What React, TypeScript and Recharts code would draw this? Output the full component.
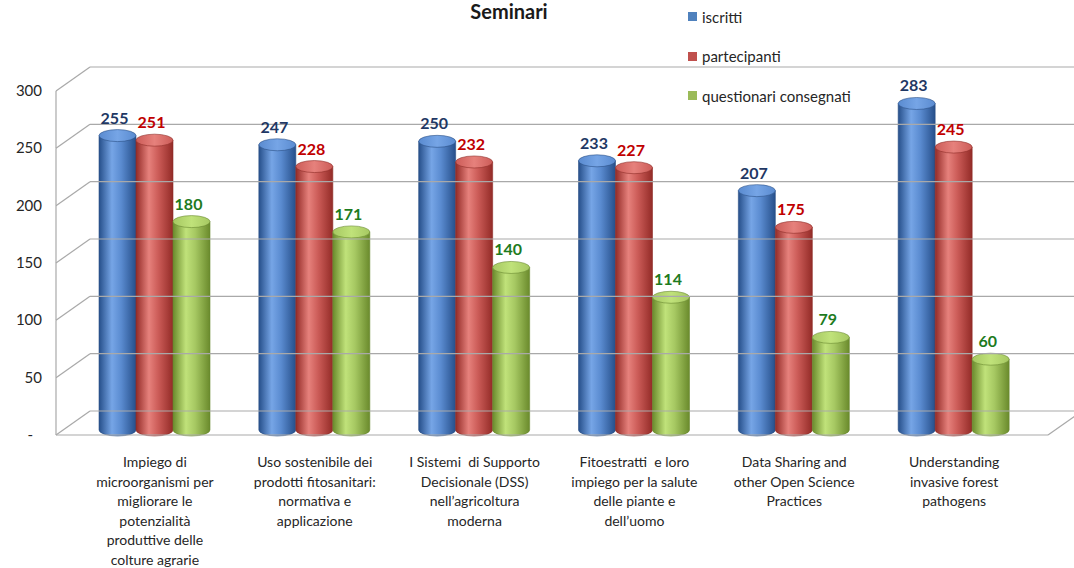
import { Bar, BarChart, LabelList, Legend, XAxis, YAxis } from "recharts";

const categories = [
  ["Impiego di", "microorganismi per", "migliorare le", "potenzialità", "produttive delle", "colture agrarie"],
  ["Uso sostenibile dei", "prodotti fitosanitari:", "normativa e", "applicazione"],
  ["I Sistemi  di Supporto", "Decisionale (DSS)", "nell’agricoltura", "moderna"],
  ["Fitoestratti  e loro", "impiego per la salute", "delle piante e", "dell’uomo"],
  ["Data Sharing and", "other Open Science", "Practices"],
  ["Understanding", "invasive forest", "pathogens"],
];
const iscritti = [255, 247, 250, 233, 207, 283];
const partecipanti = [251, 228, 232, 227, 175, 245];
const questionari = [180, 171, 140, 114, 79, 60];
const yTicks = [0, 50, 100, 150, 200, 250, 300];

const FONT = "Lato, 'Open Sans', sans-serif";
const W = 1074;
const H = 568;
const X_AXIS_H = 30;
const MARGIN = { top: 78, right: 40, bottom: 146 - X_AXIS_H, left: 56 };
const Y_AXIS_W = 19;
const PLOT_H = H - 78 - 146;
const Y_MAX = 300;
const PX_PER_UNIT = PLOT_H / Y_MAX;

// pseudo-3D box: front edge and back wall offsets relative to the value scale
const FRONT_X = 56;
const BACK_X = 90;
const FRONT_DY = 13;
const BACK_DY = -11;
const FLOOR_RIGHT = 1048;
const GRID = "#a9a9a9";

const series = [
  { key: "iscritti", name: "iscritti", legend: "#4f81bd", dark: "#264f8a", light: "#76a5e6", top: "#5a8bd0", edge: "#2b5187", label: "#1f3864" },
  { key: "partecipanti", name: "partecipanti", legend: "#c0504d", dark: "#932b27", light: "#e6817c", top: "#cc5c58", edge: "#8e2d29", label: "#c00000" },
  { key: "questionari", name: "questionari consegnati", legend: "#9bbb59", dark: "#6a8a2c", light: "#c0e27a", top: "#a6c862", edge: "#6a8a30", label: "#1e7b1e" },
];

const data = categories.map((lines, i) => ({
  name: lines.join("\n"),
  iscritti: iscritti[i],
  partecipanti: partecipanti[i],
  questionari: questionari[i],
}));

function Cylinder(props: any) {
  const { x, y, width, height, index, s } = props;
  if (width == null || height == null) return null;
  const ry = 6;
  const rx = width / 2;
  const topY = y + ry;
  const botY = y + height + 8;
  const gid = `grad-${s.key}-${index}`;
  const tid = `top-${s.key}-${index}`;
  return (
    <g>
      <defs>
        <linearGradient id={gid} x1="0" x2="1" y1="0" y2="0">
          <stop offset="0" stopColor={s.dark} />
          <stop offset="0.35" stopColor={s.light} />
          <stop offset="0.6" stopColor={s.top} />
          <stop offset="1" stopColor={s.dark} />
        </linearGradient>
        <linearGradient id={tid} x1="0" x2="1" y1="0" y2="0">
          <stop offset="0" stopColor={s.top} />
          <stop offset="0.5" stopColor={s.light} />
          <stop offset="1" stopColor={s.top} />
        </linearGradient>
      </defs>
      <path
        d={`M${x},${topY} L${x},${botY} A${rx},${ry} 0 0 0 ${x + width},${botY} L${x + width},${topY} Z`}
        fill={`url(#${gid})`}
        stroke={s.edge}
        strokeWidth={0.6}
      />
      <ellipse cx={x + rx} cy={topY} rx={rx} ry={ry} fill={`url(#${tid})`} stroke={s.edge} strokeWidth={0.6} />
    </g>
  );
}

function YTick(props: any) {
  const { y, payload } = props;
  const v = payload.value;
  const fy = y + FRONT_DY;
  const by = y + BACK_DY;
  const step = 50 * PX_PER_UNIT;
  return (
    <g>
      <line x1={FRONT_X} y1={fy} x2={BACK_X} y2={by} stroke={GRID} strokeWidth={1.2} />
      <line x1={BACK_X} y1={by} x2={W} y2={by} stroke={GRID} strokeWidth={1.2} />
      {v > 0 && <line x1={FRONT_X} y1={fy} x2={FRONT_X} y2={fy + step} stroke={GRID} strokeWidth={1.2} />}
      {v === 0 && (
        <>
          <line x1={FRONT_X} y1={fy} x2={FLOOR_RIGHT} y2={fy} stroke={GRID} strokeWidth={1.2} />
          <line x1={FLOOR_RIGHT} y1={fy} x2={FLOOR_RIGHT + (BACK_X - FRONT_X)} y2={by} stroke={GRID} strokeWidth={1.2} />
        </>
      )}
      <text x={v === 0 ? 33 : 42} y={fy} dy={5} textAnchor="end" fontFamily={FONT} fontSize={15} fill="#262626">
        {v === 0 ? "-" : v}
      </text>
    </g>
  );
}

function XTick(props: any) {
  const { x, y, payload } = props;
  const lines = String(payload.value).split("\n");
  return (
    <text textAnchor="middle" fontFamily={FONT} fontSize={14} fill="#262626">
      {lines.map((l, i) => (
        <tspan key={i} x={x} y={y + 37 + i * 19.6} style={{ whiteSpace: "pre" }}>
          {l}
        </tspan>
      ))}
    </text>
  );
}

function LegendContent() {
  return (
    <div style={{ fontFamily: FONT, fontSize: 15, color: "#262626" }}>
      {series.map((s) => (
        <div key={s.key} style={{ display: "flex", alignItems: "center", height: 39.5 }}>
          <span style={{ width: 9, height: 9, background: s.legend, marginRight: 5, display: "inline-block" }} />
          {s.name}
        </div>
      ))}
    </div>
  );
}

export default function App() {
  return (
    <div style={{ position: "relative", width: W, height: H, background: "#fff" }}>
      <style>{`body{margin:0}`}</style>
      <div
        style={{
          position: "absolute",
          left: 0,
          width: 1018,
          top: 0,
          lineHeight: "22px",
          textAlign: "center",
          fontFamily: FONT,
          fontWeight: 700,
          fontSize: 20,
          color: "#1a1a1a",
        }}
      >
        Seminari
      </div>
      <BarChart width={W} height={H} data={data} margin={MARGIN} barSize={37} barGap={0}>
        <YAxis
          domain={[0, Y_MAX]}
          ticks={yTicks}
          interval={0}
          width={Y_AXIS_W}
          axisLine={false}
          tickLine={false}
          tick={(p: any) => <YTick {...p} />}
        />
        <XAxis
          dataKey="name"
          height={X_AXIS_H}
          axisLine={false}
          tickLine={false}
          interval={0}
          tick={(p: any) => <XTick {...p} />}
        />
        <Legend
          layout="vertical"
          align="center"
          verticalAlign="middle"
          content={<LegendContent />}
          wrapperStyle={{ left: 688, top: -3, width: 220 }}
        />
        {series.map((s) => (
          <Bar
            key={s.key}
            dataKey={s.key}
            name={s.name}
            fill={s.legend}
            isAnimationActive={false}
            shape={(p: any) => <Cylinder {...p} s={s} />}
          >
            <LabelList
              dataKey={s.key}
              content={(p: any) => (
                <text
                  x={p.x + p.width / 2 - 3}
                  y={p.y - 6}
                  textAnchor="middle"
                  fontFamily={FONT}
                  fontWeight={700}
                  fontSize={16}
                  fill={s.label}
                >
                  {p.value}
                </text>
              )}
            />
          </Bar>
        ))}
      </BarChart>
    </div>
  );
}
